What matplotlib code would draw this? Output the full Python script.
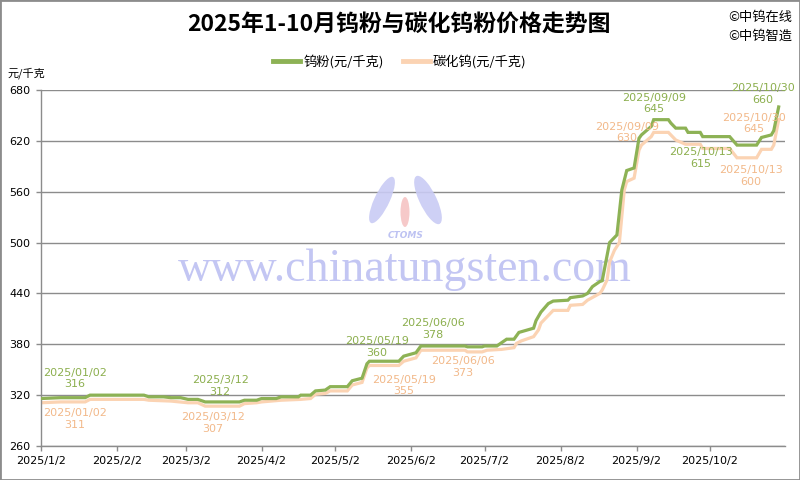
import matplotlib
matplotlib.use("Agg")
import matplotlib.pyplot as plt
import matplotlib.dates as mdates
from matplotlib.patches import Rectangle, Ellipse
import pandas as pd

plt.rcParams['font.family'] = ['Noto Sans CJK SC', 'DejaVu Sans']

# 钨粉 (元/千克)
w_dates = ["2025-01-02", "2025-01-10", "2025-01-20", "2025-01-22", "2025-02-13", "2025-02-15",
           "2025-02-21", "2025-02-24", "2025-02-28", "2025-03-03", "2025-03-07", "2025-03-10",
           "2025-03-24", "2025-03-26", "2025-03-31", "2025-04-02", "2025-04-08", "2025-04-10",
           "2025-04-17", "2025-04-18", "2025-04-22", "2025-04-24", "2025-04-28", "2025-04-30",
           "2025-05-07", "2025-05-09", "2025-05-13", "2025-05-15", "2025-05-16", "2025-05-28",
           "2025-05-30", "2025-06-04", "2025-06-06", "2025-06-24", "2025-06-25", "2025-07-01",
           "2025-07-02", "2025-07-07", "2025-07-09", "2025-07-11", "2025-07-14", "2025-07-16",
           "2025-07-22", "2025-07-23", "2025-07-25", "2025-07-28", "2025-07-30", "2025-08-05",
           "2025-08-06", "2025-08-11", "2025-08-13", "2025-08-15", "2025-08-18", "2025-08-19",
           "2025-08-20", "2025-08-22", "2025-08-25", "2025-08-27", "2025-08-29", "2025-09-01",
           "2025-09-03", "2025-09-04", "2025-09-08", "2025-09-09", "2025-09-15", "2025-09-16",
           "2025-09-18", "2025-09-22", "2025-09-23", "2025-09-28", "2025-09-29", "2025-10-10",
           "2025-10-13", "2025-10-21", "2025-10-23", "2025-10-27", "2025-10-28", "2025-10-30"]
w_values = [316, 317, 317, 320, 320, 318,
            318, 317, 317, 315, 315, 312,
            312, 314, 314, 316, 316, 318,
            318, 320, 320, 325, 326, 330,
            330, 337, 340, 357, 360, 360,
            366, 370, 378, 378, 377, 377,
            378, 378, 382, 386, 386, 394,
            399, 408, 418, 428, 431, 432,
            435, 437, 440, 448, 454, 455,
            470, 500, 509, 562, 585, 588,
            623, 627, 637, 645, 645, 641,
            635, 635, 630, 630, 625, 625,
            615, 615, 624, 627, 632, 660]

# 碳化钨 (元/千克)
c_dates = ["2025-01-02", "2025-01-10", "2025-01-20", "2025-01-22", "2025-02-13", "2025-02-15",
           "2025-02-24", "2025-03-03", "2025-03-07", "2025-03-10", "2025-03-24", "2025-03-26",
           "2025-03-31", "2025-04-02", "2025-04-10", "2025-04-18", "2025-04-22", "2025-04-24",
           "2025-04-28", "2025-04-30", "2025-05-07", "2025-05-09", "2025-05-13", "2025-05-15",
           "2025-05-16", "2025-05-28", "2025-05-30", "2025-06-04", "2025-06-06", "2025-06-24",
           "2025-06-25", "2025-07-01", "2025-07-03", "2025-07-09", "2025-07-14", "2025-07-15",
           "2025-07-17", "2025-07-22", "2025-07-24", "2025-07-25", "2025-07-28", "2025-07-30",
           "2025-08-05", "2025-08-06", "2025-08-11", "2025-08-13", "2025-08-18", "2025-08-19",
           "2025-08-21", "2025-08-22", "2025-08-24", "2025-08-26", "2025-08-28", "2025-08-29",
           "2025-09-01", "2025-09-03", "2025-09-04", "2025-09-08", "2025-09-09", "2025-09-15",
           "2025-09-16", "2025-09-18", "2025-09-22", "2025-09-28", "2025-09-29", "2025-10-10",
           "2025-10-13", "2025-10-21", "2025-10-23", "2025-10-27", "2025-10-28", "2025-10-30"]
c_values = [311, 312, 312, 315, 315, 314,
            313, 311, 311, 307, 307, 310,
            311, 312, 314, 315, 316, 321,
            322, 325, 325, 332, 335, 352,
            355, 355, 360, 364, 373, 373,
            371, 371, 373, 374, 376, 381,
            384, 389, 397, 405, 414, 420,
            420, 426, 427, 432, 440, 444,
            456, 477, 491, 500, 562, 572,
            576, 609, 615, 625, 630, 630,
            627, 621, 616, 616, 611, 611,
            600, 600, 610, 610, 615, 645]

# labelled points
w_lab_dates = ["2025-01-02", "2025-03-12", "2025-05-19", "2025-06-06", "2025-09-09", "2025-10-13", "2025-10-30"]
w_lab_text = ["2025/01/02", "2025/3/12", "2025/05/19", "2025/06/06", "2025/09/09", "2025/10/13", "2025/10/30"]
w_lab_values = [316, 312, 360, 378, 645, 615, 660]
w_lab_off = [(34, 20), (10, 16), (0, 14), (12, 17), (0, 16), (-36, -13), (-16, 13)]

c_lab_dates = ["2025-01-02", "2025-03-12", "2025-05-19", "2025-06-06", "2025-09-09", "2025-10-13", "2025-10-30"]
c_lab_text = ["2025/01/02", "2025/03/12", "2025/05/19", "2025/06/06", "2025/09/09", "2025/10/13", "2025/10/30"]
c_lab_values = [311, 307, 355, 373, 630, 600, 645]
c_lab_off = [(34, -16), (3, -17), (27, -20), (42, -17), (-27, 0), (14, -18), (-25, -4)]

GREEN = "#8DB255"
GREEN_TXT = "#8CAF4E"
ORANGE = "#FBD3B3"
ORANGE_TXT = "#F2B98A"
GRID = "#8C8C8C"

W, H = 800, 480
fig = plt.figure(figsize=(8, 4.8), dpi=100)
ax = fig.add_axes([41 / W, 1 - 446 / H, (785 - 41) / W, (446 - 90) / H])


def fx(px):
    return px / W


def fy(py):
    return 1 - py / H


# watermark + logo
ax.text(fx(405), fy(270), "www.chinatungsten.com", transform=fig.transFigure,
        family="Liberation Serif", fontsize=33, color="#C3C6F3", ha="center", va="center", zorder=0.6)
for cx, cy, w, h, ang, col in [(382, 200, 16, 48, -15, "#C9CBF4"), (428, 200, 18, 50, 15, "#C9CBF4"),
                               (405, 212, 9, 30, 0, "#F6C4C4")]:
    ax.add_patch(Ellipse((fx(cx), fy(cy)), w / W, h / H, angle=ang, transform=fig.transFigure,
                         color=col, alpha=0.9, zorder=0.6, lw=0))
ax.text(fx(406), fy(236), "CTOMS", transform=fig.transFigure, fontsize=6.5, fontweight="bold",
        fontstyle="italic", color="#BDC2F2", ha="center", va="center", zorder=0.6, family="DejaVu Sans")

wd = pd.to_datetime(w_dates)
cd = pd.to_datetime(c_dates)
ax.plot(wd, w_values, color=GREEN, lw=2.3, label="钨粉(元/千克)", zorder=3, solid_joinstyle="miter")
ax.plot(cd, c_values, color=ORANGE, lw=2.3, label="碳化钨(元/千克)", zorder=2.5, solid_joinstyle="miter")

clip_rect = Rectangle((0, 0), fx(788), 1, transform=fig.transFigure)
for d, t, v, (dx, dy) in zip(w_lab_dates, w_lab_text, w_lab_values, w_lab_off):
    ax.annotate(f"{t}\n{v}", xy=(pd.Timestamp(d), v), xytext=(dx, dy), textcoords="offset pixels",
                ha="center", va="center", fontsize=8, color=GREEN_TXT, linespacing=1.2,
                family="DejaVu Sans", zorder=4)
for d, t, v, (dx, dy) in zip(c_lab_dates, c_lab_text, c_lab_values, c_lab_off):
    a = ax.annotate(f"{t}\n{v}", xy=(pd.Timestamp(d), v), xytext=(dx, dy), textcoords="offset pixels",
                    ha="center", va="center", fontsize=8, color=ORANGE_TXT, linespacing=1.2,
                    family="DejaVu Sans", zorder=4)
    a.set_clip_on(True)
    a.set_clip_path(clip_rect)

ax.set_xlim(pd.Timestamp("2025-01-02"), pd.Timestamp("2025-11-01 14:00"))
ax.set_ylim(260, 680)
ax.set_yticks(range(260, 681, 60))
ax.xaxis.set_major_locator(mdates.MonthLocator(bymonthday=2))
ax.xaxis.set_major_formatter(plt.FuncFormatter(
    lambda x, pos: (lambda d: f"{d.year}/{d.month}/{d.day}")(mdates.num2date(x))))

ax.set_axisbelow(True)
ax.grid(axis="y", color=GRID, lw=1)
for s in ["top", "right"]:
    ax.spines[s].set_visible(False)
for s in ["left", "bottom"]:
    ax.spines[s].set_color(GRID)
    ax.spines[s].set_linewidth(1)
ax.tick_params(axis="both", direction="out", length=3.5, width=1, color=GRID,
               labelsize=8, labelcolor="black")
ax.tick_params(axis="y", pad=4)
ax.tick_params(axis="x", pad=4)
for lab in ax.get_xticklabels() + ax.get_yticklabels():
    lab.set_family("DejaVu Sans")

fig.text(fx(399), fy(25), "2025年1-10月钨粉与碳化钨粉价格走势图", fontsize=16.5, fontweight="bold",
         ha="center", va="center")
fig.text(fx(728), fy(17), "©中钨在线", fontsize=9.5, ha="left", va="center")
fig.text(fx(728), fy(36), "©中钨智造", fontsize=9.5, ha="left", va="center")
fig.text(fx(7), fy(73), "元/千克", fontsize=8, ha="left", va="center")

fig.legend(loc="center", bbox_to_anchor=(fx(400), fy(62)), ncol=2, frameon=False, fontsize=9.5,
           handlelength=2.0, columnspacing=1.5, handletextpad=0.25)
for line in fig.legends[0].get_lines():
    line.set_linewidth(3.5)

fig.patches.append(Rectangle((0, 0), 1, 1, transform=fig.transFigure, fill=False,
                             edgecolor="#8C8C8C", lw=2))

fig.savefig("out.png", dpi=100)
